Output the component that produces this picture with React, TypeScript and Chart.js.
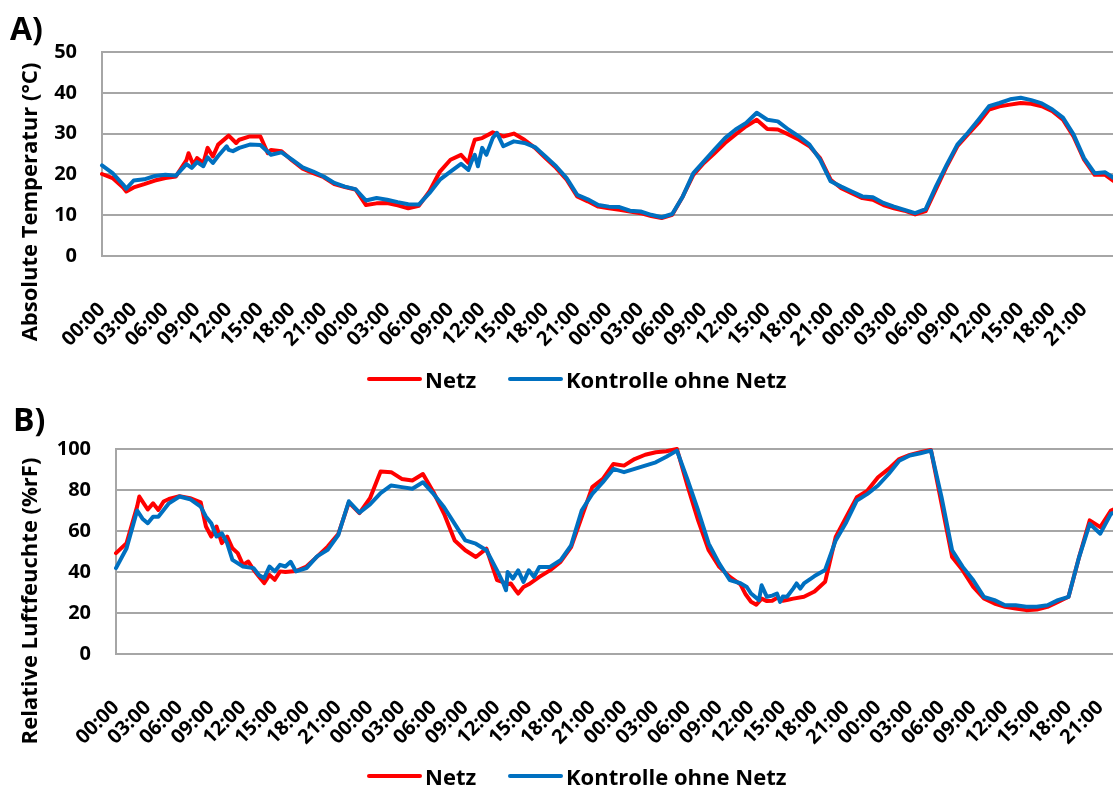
import { useEffect, useRef } from 'react';
import { Chart, registerables } from 'chart.js';

Chart.register(...registerables);

// Four days of logger readings, hour 0 = 00:00 of day 1.
const timeLabels = ['00:00', '03:00', '06:00', '09:00', '12:00', '15:00', '18:00', '21:00'];
const tickHours = [0, 3, 6, 9, 12, 15, 18, 21, 24, 27, 30, 33, 36, 39, 42, 45, 48, 51, 54, 57, 60, 63, 66, 69, 72, 75, 78, 81, 84, 87, 90, 93];

// Temperature (°C), one value per full hour
const netzTemp = [
  20.1, 19.1, 16.8, 16.8, 17.6, 18.5, 19.1, 19.5, 23.5, 24.0,
  26.5, 27.3, 29.5, 28.5, 29.3, 29.3, 26.0, 25.7, 23.4, 21.4,
  20.3, 19.3, 17.6, 16.9, 16.3, 12.5, 12.9, 13.0, 12.4, 11.7,
  12.3, 15.8, 20.7, 23.6, 24.8, 26.0, 28.9, 30.3, 29.3, 30.0,
  28.5, 26.5, 24.0, 21.6, 18.7, 14.6, 13.4, 12.1, 11.7, 11.3,
  10.9, 10.5, 9.8, 9.3, 10.1, 14.6, 19.9, 22.8, 25.2, 27.7,
  29.8, 31.8, 33.4, 31.1, 31.0, 29.8, 28.5, 26.9, 24.0, 18.7,
  16.6, 15.4, 14.2, 13.8, 12.5, 11.7, 11.1, 10.2, 11.0, 16.5,
  22.0, 26.9, 29.8, 32.6, 35.9, 36.7, 37.1, 37.5, 37.3, 36.7,
  35.5, 33.4, 29.3, 23.6, 19.9, 19.9, 18.0,
];
// Short spikes and dips between the full hours: [hour, °C]
const netzTempSpikes = [
  [2.3, 15.8], [8.2, 25.2], [8.65, 22.3], [9.6, 22.8], [10.5, 24.4],
  [12.7, 27.7], [15.7, 25.2], [34.7, 22.8], [35.3, 28.5],
];

const kontrolleTemp = [
  22.2, 20.3, 17.5, 18.5, 18.8, 19.6, 19.9, 19.7, 22.5, 23.0,
  24.2, 24.5, 26.0, 26.5, 27.3, 27.2, 24.8, 25.4, 23.6, 21.7,
  20.7, 19.5, 17.9, 17.0, 16.4, 13.6, 14.2, 13.8, 13.2, 12.7,
  12.6, 15.4, 18.7, 20.7, 22.6, 23.2, 26.5, 28.9, 26.9, 28.1,
  27.7, 26.7, 24.4, 22.0, 19.1, 15.0, 13.9, 12.5, 12.1, 12.0,
  11.1, 10.9, 10.1, 9.5, 10.3, 14.6, 20.3, 23.2, 26.1, 28.9,
  31.0, 32.6, 35.1, 33.4, 33.0, 31.0, 29.3, 27.3, 23.6, 18.3,
  17.0, 15.8, 14.6, 14.4, 13.0, 12.1, 11.3, 10.5, 11.5, 17.2,
  22.4, 27.3, 30.2, 33.4, 36.7, 37.5, 38.4, 38.8, 38.2, 37.4,
  35.9, 33.9, 29.8, 24.0, 20.3, 20.5, 18.8,
];
const kontrolleTempSpikes = [
  [2.3, 16.5], [8.5, 21.6], [9.6, 22.0], [10.5, 22.8], [11.8, 26.9],
  [12.4, 25.7], [34.7, 21.1], [35.3, 24.8], [35.6, 22.0], [36.4, 24.8],
  [37.4, 30.2],
];

// Relative humidity (%rF), one value per full hour
const netzRH = [
  49.2, 54.1, 72.0, 70.5, 70.3, 75.6, 77.0, 76.0, 74.0, 57.3,
  54.1, 51.6, 43.5, 41.1, 34.6, 36.2, 40.0, 40.5, 42.7, 47.5,
  52.4, 58.5, 74.0, 68.7, 76.0, 89.0, 88.7, 85.4, 84.6, 87.8,
  78.9, 68.4, 55.4, 50.6, 47.3, 51.4, 36.0, 34.0, 29.5, 34.0,
  37.6, 40.8, 44.9, 52.2, 66.8, 81.4, 85.4, 92.7, 91.9, 95.1,
  97.2, 98.4, 98.9, 100, 82.0, 65.2, 50.6, 42.5, 37.6, 34.0,
  25.5, 27.0, 26.0, 26.0, 27.0, 27.9, 30.5, 35.2, 57.1, 66.8,
  76.5, 79.7, 86.2, 90.3, 95.1, 97.1, 98.4, 99.5, 73.3, 47.3,
  40.8, 32.7, 27.1, 24.6, 23.0, 22.2, 21.4, 21.7, 23.0, 25.4,
  27.9, 47.3, 65.2, 61.9, 70.0, 72.0,
];
const netzRHSpikes = [
  [2.2, 76.8], [3.5, 73.5], [4.5, 74.4], [8.5, 62.2], [9.5, 62.2],
  [10.5, 57.3], [11.5, 49.2], [12.5, 45.1], [13.5, 37.8], [14.5, 38.6],
  [15.5, 40.3], [36.5, 35.2], [37.3, 34.4], [37.7, 31.5], [38.5, 32.7],
  [59.5, 29.0], [60.5, 24.0], [61.5, 25.8], [62.5, 27.5], [63.5, 26.5],
];

const kontrolleRH = [
  41.9, 51.6, 70.0, 63.8, 67.0, 73.5, 76.8, 75.5, 71.9, 63.8,
  58.9, 45.9, 42.7, 41.9, 37.0, 40.3, 42.7, 40.3, 41.9, 47.6,
  50.8, 58.0, 74.5, 69.0, 73.0, 78.5, 82.2, 81.4, 80.6, 83.8,
  78.1, 71.6, 63.5, 55.4, 53.8, 50.6, 40.8, 40.0, 40.8, 40.8,
  42.5, 42.5, 45.7, 53.0, 70.0, 78.1, 83.8, 90.3, 88.7, 90.3,
  91.9, 93.5, 96.2, 99.2, 85.0, 70.0, 53.8, 44.1, 36.0, 34.5,
  29.5, 33.5, 28.5, 28.0, 32.0, 34.4, 38.0, 41.0, 55.4, 64.3,
  74.9, 78.1, 82.2, 87.8, 94.3, 96.8, 97.9, 99.2, 76.5, 50.6,
  42.5, 36.0, 27.9, 26.3, 23.8, 23.8, 23.0, 23.0, 23.8, 26.3,
  27.9, 47.3, 63.5, 58.7, 68.4, 70.0,
];
const kontrolleRHSpikes = [
  [2.5, 66.0], [3.5, 67.0], [8.5, 67.0], [9.5, 57.3], [10.5, 54.1],
  [13.5, 38.5], [14.5, 42.7], [15.5, 43.5], [16.5, 45.0], [36.6, 34.4],
  [36.85, 31.1], [37.5, 36.8], [38.5, 35.2], [39.5, 37.6], [59.6, 32.7],
  [60.75, 26.3], [61.5, 27.9], [62.45, 29.5], [62.75, 25.4], [63.4, 27.9],
  [64.3, 34.4], [64.65, 31.9],
];

const RED = '#ff0000';
const BLUE = '#0070c0';
const GRID = '#a6a6a6';
const FONT = '"Open Sans", Lato, sans-serif';
const WIDTH = 1113;

function toPoints(hourly: number[], spikes: number[][]) {
  return [
    ...hourly.map((y, x) => ({ x, y })),
    ...spikes.map(([x, y]) => ({ x, y })),
  ].sort((a, b) => a.x - b.x);
}

type PanelProps = {
  top: number;
  height: number;
  netz: { x: number; y: number }[];
  kontrolle: { x: number; y: number }[];
  yMax: number;
  yStep: number;
  xMax: number;
  axisWidth: number;
  plotTop: number;
  xAxisHeight: number;
};

function Panel(p: PanelProps) {
  const ref = useRef<HTMLCanvasElement | null>(null);

  useEffect(() => {
    if (!ref.current) return;
    const tickFont = { family: FONT, size: 20, weight: 'bold' as const };
    const line = (label: string, data: { x: number; y: number }[], color: string, order: number) => ({
      label,
      data,
      borderColor: color,
      backgroundColor: color,
      borderWidth: 4,
      pointRadius: 0,
      borderJoinStyle: 'round' as const,
      borderCapStyle: 'round' as const,
      clip: 4,
      order,
    });
    const chart = new Chart(ref.current, {
      type: 'line',
      data: {
        datasets: [
          line('Netz', p.netz, RED, 1),
          line('Kontrolle ohne Netz', p.kontrolle, BLUE, 0),
        ],
      },
      options: {
        responsive: false,
        animation: false,
        events: [],
        layout: { padding: { top: p.plotTop, left: 0, right: 0, bottom: 0 } },
        plugins: { legend: { display: false }, tooltip: { enabled: false } },
        scales: {
          x: {
            type: 'linear',
            min: 0,
            max: p.xMax,
            grid: { display: false, drawTicks: false, tickLength: 0 },
            border: { display: true, color: GRID, width: 2 },
            afterBuildTicks: (scale: any) => {
              scale.ticks = tickHours.map((value) => ({ value }));
            },
            afterFit: (scale: any) => {
              scale.height = p.xAxisHeight;
              scale.paddingLeft = 0;
              scale.paddingRight = 0;
            },
            ticks: {
              autoSkip: false,
              minRotation: 45,
              maxRotation: 45,
              padding: 42,
              color: '#000',
              font: tickFont,
              callback: (v: any) => timeLabels[Math.round(Number(v) / 3) % 8],
            },
          },
          y: {
            min: 0,
            max: p.yMax,
            grid: { color: GRID, lineWidth: 2, drawTicks: false, tickLength: 0 },
            border: { display: true, color: GRID, width: 2 },
            afterFit: (scale: any) => {
              scale.width = p.axisWidth;
            },
            ticks: { stepSize: p.yStep, padding: 25, color: '#000', font: tickFont },
          },
        },
      },
    });
    return () => chart.destroy();
  }, []);

  return (
    <canvas
      ref={ref}
      width={WIDTH}
      height={p.height}
      style={{ position: 'absolute', left: 0, top: p.top, width: WIDTH, height: p.height }}
    />
  );
}

function Legend({ y }: { y: number }) {
  const text: React.CSSProperties = {
    position: 'absolute',
    top: y - 15,
    height: 30,
    lineHeight: '30px',
    font: `bold 22px ${FONT}`,
    color: '#000',
    whiteSpace: 'nowrap',
  };
  const swatch = (left: number, color: string): React.CSSProperties => ({
    position: 'absolute',
    left,
    top: y - 2,
    width: 55,
    height: 4,
    borderRadius: 2,
    background: color,
  });
  return (
    <>
      <div style={swatch(367, RED)} />
      <div style={{ ...text, left: 425 }}>Netz</div>
      <div style={swatch(508, BLUE)} />
      <div style={{ ...text, left: 566 }}>Kontrolle ohne Netz</div>
    </>
  );
}

function AxisTitle({ cx, cy, text }: { cx: number; cy: number; text: string }) {
  return (
    <div
      style={{
        position: 'absolute',
        left: cx,
        top: cy,
        transform: 'translate(-50%, -50%) rotate(-90deg)',
        font: `bold 22px ${FONT}`,
        color: '#000',
        whiteSpace: 'nowrap',
      }}
    >
      {text}
    </div>
  );
}

function PanelLetter({ x, y, text }: { x: number; y: number; text: string }) {
  return (
    <div
      style={{
        position: 'absolute',
        left: x,
        top: y,
        font: `bold 32px ${FONT}`,
        lineHeight: '32px',
        color: '#000',
      }}
    >
      {text}
    </div>
  );
}

export default function App() {
  return (
    <div
      style={{
        position: 'fixed',
        left: 0,
        top: 0,
        width: WIDTH,
        height: 787,
        overflow: 'hidden',
        background: '#fff',
      }}
    >
      <Panel
        top={0}
        height={393}
        netz={toPoints(netzTemp, netzTempSpikes)}
        kontrolle={toPoints(kontrolleTemp, kontrolleTempSpikes)}
        yMax={50}
        yStep={10}
        xMax={95.74}
        axisWidth={102}
        plotTop={52}
        xAxisHeight={137}
      />
      <Panel
        top={393}
        height={394}
        netz={toPoints(netzRH, netzRHSpikes)}
        kontrolle={toPoints(kontrolleRH, kontrolleRHSpikes)}
        yMax={100}
        yStep={20}
        xMax={94.2}
        axisWidth={116}
        plotTop={56}
        xAxisHeight={133}
      />
      <PanelLetter x={10} y={12} text="A)" />
      <PanelLetter x={13} y={403} text="B)" />
      <AxisTitle cx={28} cy={202} text="Absolute Temperatur (°C)" />
      <AxisTitle cx={28} cy={601} text="Relative Luftfeuchte (%rF)" />
      <Legend y={379} />
      <Legend y={776} />
    </div>
  );
}
